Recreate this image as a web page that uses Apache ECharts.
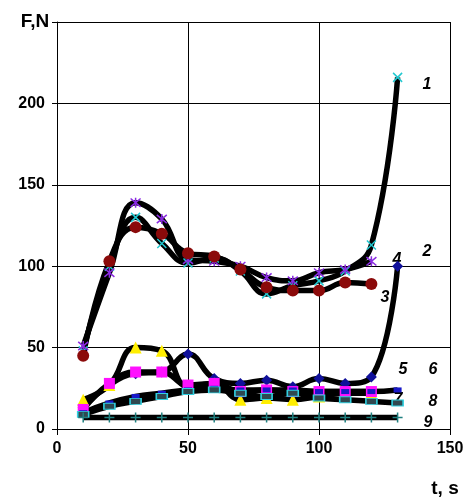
<!DOCTYPE html>
<html><head><meta charset="utf-8">
<script src="https://cdn.jsdelivr.net/npm/echarts@6/dist/echarts.min.js"></script>
<style>html,body{margin:0;padding:0;background:#fff}#c{width:468px;height:499px}</style>
</head><body><div id="c"></div>
<script>
var times = [10,20,30,40,50,60,70,80,90,100,110,120,130];
var s1 = [48,100,130,114,102,105,97,83,88,91,97,113,216];
var s2 = [51,96,139,129,104,103,100,93,91,96,98,103];
var s3 = [45,103,124,120,108,106,98,87,85,85,90,89];
var s4 = [13,27,34,35,46,31,28,30,26,31,28,32,100];
var s5 = [18,27,50,48,26,28,18,19,18,20,22,22];
var s6 = [12,28,35,35,27,28,23,24,23,23,23,23];
var s7 = [10,16,20,22,24,25,24,24,24,23,23,23,24];
var s8 = [9,14,17,20,23,24,22,20,22,19,18,17,16];
var s9 = [7,7,7,7,7,7,7,7,7,7,7,7,7];
var seriesLabels = ['1','2','3','4','5','6','7','8','9'];
var xTicks = [0,50,100,150];
var yTicks = [0,50,100,150,200];

var all = [s1,s2,s3,s4,s5,s6,s7,s8,s9];
var markers = [
  {symbol:'path://M0,0L10,10M10,0L0,10', size:9, color:'none', border:'#22c8d0', bw:1.5},
  {symbol:'path://M0,0L10,10M10,0L0,10M5,-1L5,11', size:10, color:'none', border:'#8a2be2', bw:1.5},
  {symbol:'circle', size:12, color:'#8b0a0a', border:'#8b0a0a', bw:0},
  {symbol:'diamond', size:11, color:'#10109a', border:'#10109a', bw:0},
  {symbol:'triangle', size:12, color:'#ffee00', border:'#ffee00', bw:0},
  {symbol:'rect', size:11, color:'#ff10ff', border:'#ff10ff', bw:0},
  {symbol:'rect', size:[8,5], color:'#1818c8', border:'#1818c8', bw:0},
  {symbol:'rect', size:[11,6], color:'#304850', border:'#30d0e0', bw:1.2},
  {symbol:'path://M5,0L5,10M0,5L10,5', size:10, color:'none', border:'#208080', bw:1.5}
];
function pairs(arr){ return arr.map(function(v,i){ return [times[i], v]; }); }
var series = [];
all.forEach(function(arr){
  series.push({type:'line', data:pairs(arr), smooth:0.45, symbol:'none',
    lineStyle:{color:'#000', width:5.5}, z:2, silent:true});
});
all.forEach(function(arr,k){
  var m = markers[k];
  series.push({type:'scatter', data:pairs(arr), symbol:m.symbol, symbolSize:m.size,
    itemStyle:{color:m.color, borderColor:m.border, borderWidth:m.bw, opacity:1}, z:3, silent:true});
});
var font = 'Liberation Sans, Arial, sans-serif';
var labelPos = [[427,85],[427,252],[385,298],[397,260],[403,370],[433,370],[398,400],[433,402],[428,423]];
var graphics = seriesLabels.map(function(t,i){
  return {type:'text', x:labelPos[i][0], y:labelPos[i][1],
    style:{text:t, font:'italic bold 16px '+font, fill:'#000', textAlign:'center', textVerticalAlign:'middle'}};
});
graphics.push({type:'text', x:35, y:22, style:{text:'F,N', font:'bold 19px '+font, fill:'#000', textAlign:'center', textVerticalAlign:'middle'}});
graphics.push({type:'text', x:445, y:489, style:{text:'t, s', font:'bold 19px '+font, fill:'#000', textAlign:'center', textVerticalAlign:'middle'}});

var chart = echarts.init(document.getElementById('c'), null, {renderer:'canvas'});
chart.setOption({
  animation:false,
  backgroundColor:'#fff',
  grid:{left:57, right:18, top:22, bottom:70, containLabel:false},
  xAxis:{type:'value', min:xTicks[0], max:xTicks[xTicks.length-1], interval:50,
    axisLine:{lineStyle:{color:'#000', width:1}},
    axisTick:{show:true, inside:false, length:6, lineStyle:{color:'#000'}},
    axisLabel:{color:'#000', fontWeight:'bold', fontSize:16, fontFamily:font, margin:12},
    splitLine:{show:true, lineStyle:{color:'#000', width:1}}},
  yAxis:{type:'value', min:0, max:250, interval:50,
    axisLine:{show:true, lineStyle:{color:'#000', width:1}},
    axisTick:{show:true, length:5, lineStyle:{color:'#000'}},
    axisLabel:{color:'#000', fontWeight:'bold', fontSize:16, fontFamily:font, margin:12,
      formatter:function(v){ return yTicks.indexOf(v) >= 0 ? String(v) : ''; }},
    splitLine:{show:true, lineStyle:{color:'#000', width:1}}},
  series:series,
  graphic:graphics
});
</script></body></html>
